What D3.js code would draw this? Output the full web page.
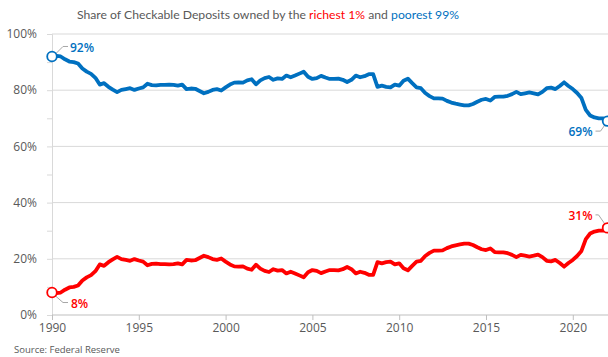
<!DOCTYPE html>
<html>
<head>
<meta charset="utf-8">
<script src="https://cdn.jsdelivr.net/npm/d3@7"></script>
<style>
  html, body { margin: 0; padding: 0; background: #fff; }
  svg { display: block; font-family: "Open Sans", "Noto Sans", sans-serif; }
</style>
</head>
<body>
<svg id="chart" width="608" height="357"></svg>
<script>
// Quarterly series, 1990 Q1 through 2022 Q1 (percent of checkable deposits)
const startYear = 1990;
const poorest99 = [
  92.0, 92.2, 92.0, 91.0, 90.2, 90.0, 89.5, 87.7, 86.6, 85.8,
  84.4, 82.0, 82.5, 81.2, 80.2, 79.3, 80.1, 80.4, 80.7, 80.1,
  80.6, 81.0, 82.3, 81.8, 81.7, 81.9, 81.9, 82.0, 81.9, 81.6,
  82.0, 80.4, 80.6, 80.5, 79.7, 78.9, 79.4, 80.1, 80.4, 79.9,
  81.0, 82.0, 82.7, 82.8, 82.7, 83.5, 83.9, 82.1, 83.5, 84.3,
  84.7, 83.7, 84.2, 84.0, 85.2, 84.6, 85.2, 85.9, 86.6, 84.8,
  84.0, 84.3, 85.1, 84.5, 84.0, 84.0, 84.1, 83.7, 82.9, 83.7,
  85.2, 84.6, 85.0, 85.7, 85.7, 81.2, 81.6, 81.2, 81.0, 82.0,
  81.6, 83.4, 84.1, 82.5, 81.0, 80.7, 79.0, 77.9, 77.1, 77.1,
  77.0, 76.2, 75.6, 75.2, 74.9, 74.6, 74.6, 75.1, 75.9, 76.6,
  76.9, 76.3, 77.6, 77.7, 77.7, 78.0, 78.6, 79.4, 78.6, 78.9,
  79.2, 78.9, 78.5, 79.4, 80.7, 80.9, 80.4, 81.5, 82.8, 81.5,
  80.4, 79.0, 77.2, 73.0, 71.0, 70.3, 70.0, 70.0, 69.0
];
const richest1 = [
   8.0,  7.8,  8.0,  9.0,  9.8, 10.0, 10.5, 12.3, 13.4, 14.2,
  15.6, 18.0, 17.5, 18.8, 19.8, 20.7, 19.9, 19.6, 19.3, 19.9,
  19.4, 19.0, 17.7, 18.2, 18.3, 18.1, 18.1, 18.0, 18.1, 18.4,
  18.0, 19.6, 19.4, 19.5, 20.3, 21.1, 20.6, 19.9, 19.6, 20.1,
  19.0, 18.0, 17.3, 17.2, 17.3, 16.5, 16.1, 17.9, 16.5, 15.7,
  15.3, 16.3, 15.8, 16.0, 14.8, 15.4, 14.8, 14.1, 13.4, 15.2,
  16.0, 15.7, 14.9, 15.5, 16.0, 16.0, 15.9, 16.3, 17.1, 16.3,
  14.8, 15.4, 15.0, 14.3, 14.3, 18.8, 18.4, 18.8, 19.0, 18.0,
  18.4, 16.6, 15.9, 17.5, 19.0, 19.3, 21.0, 22.1, 22.9, 22.9,
  23.0, 23.8, 24.4, 24.8, 25.1, 25.4, 25.4, 24.9, 24.1, 23.4,
  23.1, 23.7, 22.4, 22.3, 22.3, 22.0, 21.4, 20.6, 21.4, 21.1,
  20.8, 21.1, 21.5, 20.6, 19.3, 19.1, 19.6, 18.5, 17.2, 18.5,
  19.6, 21.0, 22.8, 27.0, 29.0, 29.7, 30.0, 30.0, 31.0
];
const xTicks = [1990, 1995, 2000, 2005, 2010, 2015, 2020];
const yTicks = [0, 20, 40, 60, 80, 100];
const yMinorTicks = [0, 10, 20, 30, 40, 50, 60, 70, 80, 90, 100];

const BLUE = "#0070C0", RED = "#FF0000", TEXT = "#595959", GRID = "#d9d9d9";

const svg = d3.select("#chart");
const x = d3.scaleLinear().domain([1990, 2022]).range([52, 607.5]);
const y = d3.scaleLinear().domain([0, 100]).range([315, 34]);
const t = i => startYear + i / 4;

// Title with coloured series names
const title = svg.append("text")
  .attr("x", 268).attr("y", 19).attr("text-anchor", "middle")
  .attr("font-family", "Lato, \"Open Sans\", sans-serif")
  .attr("font-size", 12.2).attr("fill", TEXT);
title.append("tspan").text("Share of Checkable Deposits owned by the ");
title.append("tspan").attr("fill", RED).text("richest 1%");
title.append("tspan").text(" and ");
title.append("tspan").attr("fill", BLUE).text("poorest 99%");

// Horizontal gridlines
svg.append("g").selectAll("line").data(yTicks.filter(d => d > 0)).join("line")
  .attr("x1", x(1990)).attr("x2", 608)
  .attr("y1", d => y(d)).attr("y2", d => y(d))
  .attr("stroke", GRID).attr("stroke-width", 1);

// Y axis with minor ticks every 10%
const yAxis = svg.append("g").attr("transform", `translate(${x(1990)},0)`)
  .call(d3.axisLeft(y).tickValues(yMinorTicks).tickSize(5).tickFormat(""));
yAxis.select(".domain").attr("stroke", GRID);
yAxis.selectAll(".tick line").attr("stroke", GRID);

svg.append("g").selectAll("text").data(yTicks).join("text")
  .attr("x", 37).attr("y", d => y(d)).attr("dy", "0.35em")
  .attr("text-anchor", "end").attr("font-size", 12).attr("fill", TEXT)
  .text(d => d + "%");

// X axis
const xAxis = svg.append("g").attr("transform", `translate(0,${y(0)})`)
  .call(d3.axisBottom(x).tickValues(xTicks).tickSize(5).tickFormat(d3.format("d")));
xAxis.select(".domain").attr("stroke", "#bfbfbf").attr("d", `M${x(1990)},0H608`);
xAxis.selectAll(".tick line").attr("stroke", "#bfbfbf");
xAxis.selectAll(".tick text").attr("font-size", 12).attr("fill", TEXT)
  .attr("font-family", "\"Open Sans\", sans-serif").attr("y", 8);

// Series lines
const line = d3.line().x((d, i) => x(t(i))).y(d => y(d));
[[poorest99, BLUE], [richest1, RED]].forEach(([vals, col]) => {
  svg.append("path").datum(vals)
    .attr("d", line).attr("fill", "none")
    .attr("stroke", col).attr("stroke-width", 3.8)
    .attr("stroke-linejoin", "round").attr("stroke-linecap", "round");
});

// End-point markers with leader-line labels
const last = poorest99.length - 1;
const callouts = [
  { vals: poorest99, i: 0, col: BLUE, path: [[4, -3], [11, -10], [16, -10]], lx: 18, ly: -4, anchor: "start" },
  { vals: richest1, i: 0, col: RED, path: [[3, 3], [11, 10], [16, 10]], lx: 19, ly: 15, anchor: "start" },
  { vals: poorest99, i: last, col: BLUE, path: [[-2, 3], [-7, 10], [-12, 10]], lx: -15, ly: 15, anchor: "end" },
  { vals: richest1, i: last, col: RED, path: [[-2, -3], [-9, -13], [-12, -13]], lx: -15, ly: -8, anchor: "end" }
];
callouts.forEach(c => {
  const cx = x(t(c.i)), cy = y(c.vals[c.i]);
  svg.append("polyline")
    .attr("points", c.path.map(p => [cx + p[0], cy + p[1]].join(",")).join(" "))
    .attr("fill", "none").attr("stroke", "#a6a6a6").attr("stroke-width", 1);
  svg.append("circle").attr("cx", cx).attr("cy", cy).attr("r", 4.8)
    .attr("fill", "#fff").attr("stroke", c.col).attr("stroke-width", 1.8);
  svg.append("text").attr("x", cx + c.lx).attr("y", cy + c.ly)
    .attr("text-anchor", c.anchor).attr("font-size", 12).attr("font-weight", 600)
    .attr("fill", c.col).text(Math.round(c.vals[c.i]) + "%");
});

// Source note
svg.append("text").attr("x", 14).attr("y", 353)
  .attr("font-size", 9.5).attr("fill", TEXT).text("Source: Federal Reserve");
</script>
</body>
</html>
